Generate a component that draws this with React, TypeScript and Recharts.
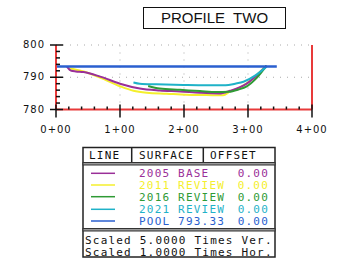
import { LineChart, Line, XAxis, YAxis, ReferenceLine } from "recharts";

// station (ft) / elevation pairs
const sta2005 = [17, 24, 31, 43, 69, 100, 131, 162, 194, 225, 255, 272, 298, 314, 329];
const elev2005 = [793.3, 792.0, 791.8, 791.6, 790.2, 788.0, 786.5, 785.9, 785.6, 785.2, 785.0, 785.8, 788.0, 790.6, 793.6];

const sta2011 = [19, 43, 69, 100, 121, 142, 173, 204, 235, 261, 272, 287, 308, 326];
const elev2011 = [792.8, 791.8, 789.9, 787.2, 785.8, 785.2, 784.9, 784.6, 784.5, 784.4, 785.6, 786.8, 789.6, 793.2];

const sta2016 = [144, 162, 194, 225, 251, 270, 285, 298, 314, 329];
const elev2016 = [787.3, 786.5, 786.1, 785.7, 785.4, 785.5, 786.2, 787.2, 789.9, 793.6];

const sta2021 = [121, 131, 157, 199, 235, 265, 280, 293, 311, 329];
const elev2021 = [788.4, 788.0, 787.8, 787.6, 787.5, 787.5, 788.0, 788.6, 790.5, 793.3];

const staPool = [0, 345];
const elevPool = [793.33, 793.33];

const xTicks = [0, 20, 40, 60, 80, 100, 120, 140, 160, 180, 200, 220, 240, 260, 280, 300, 320, 340, 360, 380, 400];
const yTicks = [780, 782, 784, 786, 788, 790, 792, 794, 796, 798, 800];

const legendNames = ["2005 BASE", "2011 REVIEW", "2016 REVIEW", "2021 REVIEW", "POOL 793.33"];
const legendOffsets = ["0.00", "0.00", "0.00", "0.00", "0.00"];
const legendColors = ["#9a2f98", "#f4ef2c", "#2f9a35", "#1fb2c8", "#2a5fcf"];

const scaleNotes = ["Scaled 5.0000 Times Ver.", "Scaled 1.0000 Times Hor."];

const zip = (s: number[], e: number[]) => s.map((sta, i) => ({ sta, elev: e[i] }));

const series = [
  { key: "2011", data: zip(sta2011, elev2011), color: legendColors[1] },
  { key: "2005", data: zip(sta2005, elev2005), color: legendColors[0] },
  { key: "2016", data: zip(sta2016, elev2016), color: legendColors[2] },
  { key: "2021", data: zip(sta2021, elev2021), color: legendColors[3] },
  { key: "pool", data: zip(staPool, elevPool), color: legendColors[4] },
];

const labelFont = { fontFamily: "DejaVu Sans", fontSize: 10, letterSpacing: 1, fill: "#111" };
const mono = "DejaVu Sans Mono";

const fmtStation = (v: number) => `${Math.floor(v / 100)}+${String(v % 100).padStart(2, "0")}`;

function LeftTick({ x, y, payload }: any) {
  const major = payload.value % 10 === 0;
  return (
    <g>
      <line x1={major ? x - 6 : x} x2={major ? x + 7 : x + 4} y1={y} y2={y} stroke="#111" strokeWidth={1.5} />
      {major && (
        <text x={x - 11} y={y + 3} textAnchor="end" {...labelFont}>
          {payload.value}
        </text>
      )}
    </g>
  );
}

function RightTick({ x, y, payload }: any) {
  const major = payload.value % 10 === 0;
  return (
    <g>
      <line x1={major ? x - 7 : x - 4} x2={major ? x + 5 : x} y1={y} y2={y} stroke="#111" strokeWidth={1.5} />
      {major && (
        <text x={x + 14} y={y + 4} textAnchor="start" {...labelFont}>
          {payload.value}
        </text>
      )}
    </g>
  );
}

function BottomTick({ x, y, payload }: any) {
  const major = payload.value % 100 === 0;
  return (
    <g>
      <line x1={x} x2={x} y1={major ? y - 5 : y - 3} y2={major ? y + 8 : y} stroke="#111" strokeWidth={1.5} />
      {major && (
        <text x={x} y={y + 23} textAnchor="middle" {...labelFont}>
          {fmtStation(payload.value)}
        </text>
      )}
    </g>
  );
}

function LegendTable() {
  const rowY = [33.3, 45, 56.7, 69.3, 81];
  return (
    <svg width={359} height={135} style={{ position: "absolute", left: 0, top: 140 }}>
      <rect x={83} y={7.5} width={192} height={109.5} fill="#fff" stroke="#222" strokeWidth={1.5} />
      <line x1={131.7} x2={131.7} y1={7.5} y2={22.5} stroke="#222" strokeWidth={1.5} />
      <line x1={203.3} x2={203.3} y1={7.5} y2={22.5} stroke="#222" strokeWidth={1.5} />
      <rect x={83} y={22.5} width={192} height={2.5} fill="#999" stroke="#333" strokeWidth={1} />
      <rect x={83} y={88.5} width={192} height={2.5} fill="#999" stroke="#333" strokeWidth={1} />
      <g fontFamily={mono} fontSize={11} letterSpacing={1.2}>
        <text x={89} y={19} fill="#111">LINE</text>
        <text x={139} y={19} fill="#111">SURFACE</text>
        <text x={210} y={19} fill="#111">OFFSET</text>
        {legendNames.map((name, i) => (
          <g key={name}>
            <line x1={91} x2={115} y1={rowY[i]} y2={rowY[i]} stroke={legendColors[i]} strokeWidth={1.5} />
            <text x={139} y={rowY[i] + 4} fill={legendColors[i]}>{name}</text>
            <text x={269} y={rowY[i] + 4} fill={legendColors[i]} textAnchor="end">{legendOffsets[i]}</text>
          </g>
        ))}
        {scaleNotes.map((t, i) => (
          <text key={t} x={85} y={104 + i * 11.7} fill="#111">{t}</text>
        ))}
      </g>
    </svg>
  );
}

export default function App() {
  return (
    <div style={{ position: "absolute", left: 0, top: 0, width: 359, height: 275, background: "#fff" }}>
      <div
        style={{
          position: "absolute",
          left: 143,
          top: 7,
          width: 141,
          height: 20,
          border: "1.5px solid #111",
          fontFamily: "Liberation Sans",
          fontSize: 15,
          lineHeight: "20px",
          textAlign: "center",
          whiteSpace: "pre",
          color: "#111",
        }}
      >
        {"PROFILE  TWO"}
      </div>
      <div style={{ position: "absolute", left: 0, top: 0 }}>
        <LineChart width={359} height={140} margin={{ top: 45, right: 7, bottom: 5.5, left: 16 }}>
          <XAxis
            dataKey="sta"
            type="number"
            domain={[0, 400]}
            ticks={xTicks}
            interval={0}
            allowDataOverflow
            height={25}
            tickSize={0}
            tickMargin={0}
            tickLine={false}
            axisLine={{ stroke: "#e83a3a", strokeWidth: 2 }}
            tick={<BottomTick />}
          />
          <YAxis
            yAxisId="left"
            type="number"
            domain={[780, 800]}
            ticks={yTicks}
            interval={0}
            width={40}
            tickSize={0}
            tickMargin={0}
            tickLine={false}
            axisLine={{ stroke: "#e83a3a", strokeWidth: 2 }}
            tick={<LeftTick />}
          />
          <YAxis
            yAxisId="right"
            orientation="right"
            type="number"
            domain={[780, 800]}
            ticks={yTicks}
            interval={0}
            width={40}
            tickSize={0}
            tickMargin={0}
            tickLine={false}
            axisLine={{ stroke: "#e83a3a", strokeWidth: 2 }}
            tick={<RightTick />}
          />
          {[800, 790].map((v) => (
            <ReferenceLine key={v} yAxisId="left" y={v} stroke="#aaa" strokeDasharray="1 6" />
          ))}
          {[100, 200, 300].map((v) => (
            <ReferenceLine key={v} yAxisId="left" x={v} stroke="#aaa" strokeDasharray="1 6" />
          ))}
          {series.map((s) => (
            <Line
              key={s.key}
              yAxisId="left"
              data={s.data}
              dataKey="elev"
              type="monotone"
              stroke={s.color}
              strokeWidth={s.key === "pool" ? 2.5 : 2}
              dot={false}
              isAnimationActive={false}
            />
          ))}
        </LineChart>
      </div>
      <LegendTable />
    </div>
  );
}
